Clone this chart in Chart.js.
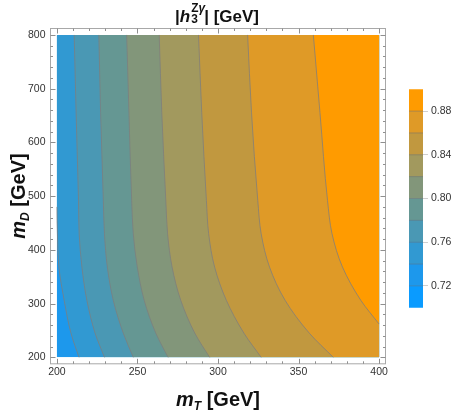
<!DOCTYPE html>
<html>
<head>
<meta charset="utf-8">
<script src="https://cdn.jsdelivr.net/npm/chart.js@4"></script>
<style>
html,body{margin:0;padding:0;background:#fff;}
#wrap{position:relative;width:458px;height:411px;overflow:hidden;font-family:"Liberation Sans",Arial,sans-serif;}
#main{position:absolute;left:0;top:0;}
#cbar{position:absolute;left:400px;top:80px;}
.lbl{position:absolute;font-weight:bold;color:#111;white-space:nowrap;text-align:center;}
#title{left:0;width:434px;top:7.3px;font-size:17px;line-height:20px;}
#xt{left:0;width:436px;top:386.8px;font-size:20px;line-height:24px;}
#yt{left:-81.9px;width:200px;top:184px;height:24px;font-size:20px;line-height:24px;transform:rotate(-90deg);}
.ss{display:inline-block;position:relative;width:14px;height:0;}
.sp{position:absolute;left:1px;top:-19.6px;font-size:11.9px;line-height:1;}
.sb{position:absolute;left:1px;top:-8.6px;font-size:11.9px;line-height:1;}
.sub{font-size:12px;position:relative;top:4px;font-style:italic;}
</style>
</head>
<body>
<div id="wrap">
  <canvas id="main" width="458" height="411"></canvas>
  <canvas id="cbar" width="58" height="240"></canvas>
  <div class="lbl" id="title">|<i>h</i><span class="ss"><span class="sp">Z<i>γ</i></span><span class="sb">3</span></span>| [GeV]</div>
  <div class="lbl" id="xt"><i>m</i><span class="sub">T</span> [GeV]</div>
  <div class="lbl" id="yt"><i>m</i><span class="sub">D</span> [GeV]</div>
</div>
<script>
// ---- data ----
const mTTicks = [200, 250, 300, 350, 400];
const mDTicks = [200, 300, 400, 500, 600, 700, 800];
const barTicks = [0.72, 0.76, 0.80, 0.84, 0.88];
const bandEdges = [0.70, 0.72, 0.74, 0.76, 0.78, 0.80, 0.82, 0.84, 0.86, 0.88, 0.90];
const bandColors = ['#0A9BFF', '#1D98EC', '#3199D2', '#4A98B4', '#659793',
                    '#82967A', '#A2995E', '#C1983F', '#DF9A27', '#FF9B00'];
const levels = [0.74, 0.76, 0.78, 0.80, 0.82, 0.84, 0.86, 0.88];

// contour lines (mT at given mD rows)
const rowsMD = [800, 656, 492, 430, 368, 306, 245, 200];
const edge074MT = [200, 200, 200.3, 201.2, 204.5, 208.7, 213.7];
const edge074MD = [800, 480, 430, 368, 306, 245, 200];
const mT076 = [210.7, 211.9, 213.4, 213.8, 215.5, 218.6, 223.7, 229.5];
const mT078 = [226.0, 227.1, 228.8, 229.5, 231.3, 235.0, 241.2, 247.4];
const mT080 = [243.3, 244.7, 246.4, 247.4, 249.9, 254.2, 261.4, 269.0];
const mT082 = [263.5, 265.1, 267.6, 268.7, 271.5, 276.9, 285.6, 294.8];
const mT084 = [287.9, 289.9, 292.8, 294.2, 297.9, 305.2, 316.1, 326.8];
const mT086 = [318.4, 320.8, 324.7, 326.8, 332.0, 341.7, 356.7, 371.6];
const rows088MD = [800, 656, 492, 430, 368, 306, 262];
const mT088 = [359.2, 363.3, 368.0, 370.8, 377.3, 388.7, 400];

// ---- build ----
const pts = (xs, ys) => xs.map((v, i) => ({x: v, y: ys[i]}));
const contourData = [
  pts(edge074MT, edge074MD),
  pts(mT076, rowsMD), pts(mT078, rowsMD), pts(mT080, rowsMD),
  pts(mT082, rowsMD), pts(mT084, rowsMD), pts(mT086, rowsMD),
  pts(mT088, rows088MD)
];
const colorFor = lv => bandColors[Math.round((lv - bandEdges[0]) / 0.02)];
const lineColor = 'rgba(125,125,125,0.75)';
const xMin = mTTicks[0], xMax = mTTicks[mTTicks.length - 1];
const yMin = mDTicks[0], yMax = mDTicks[mDTicks.length - 1];

const datasets = [{
  data: [{x: xMin, y: yMax}, {x: xMin, y: yMin}],
  backgroundColor: colorFor(0.72), borderWidth: 0, fill: {value: xMax}, order: 100
}];
contourData.forEach((d, i) => {
  datasets.push({
    data: d,
    backgroundColor: colorFor(levels[i]),
    borderColor: lineColor,
    borderWidth: 1,
    fill: {value: xMax},
    order: 99 - i,
    segment: {
      borderColor: ctx => (ctx.p0.parsed.x <= xMin && ctx.p1.parsed.x <= xMin) ? 'rgba(0,0,0,0)' : undefined
    }
  });
});

const minorBetween = (arr, n) => {
  const out = [];
  for (let i = 0; i < arr.length - 1; i++)
    for (let k = 1; k < n; k++) out.push(arr[i] + (arr[i + 1] - arr[i]) * k / n);
  return out;
};
const mTMinor = minorBetween(mTTicks, 5);
const mDMinor = minorBetween(mDTicks, 5);

const framePlugin = {
  id: 'frame',
  afterDraw(chart) {
    const {ctx, chartArea: a, scales: {x, y}} = chart;
    ctx.save();
    ctx.lineWidth = 1;
    ctx.strokeStyle = '#a8a8a8';
    ctx.strokeRect(a.left, a.top, a.right - a.left, a.bottom - a.top);
    ctx.strokeStyle = '#8f8f8f';
    const seg = (x1, y1, x2, y2) => { ctx.beginPath(); ctx.moveTo(x1, y1); ctx.lineTo(x2, y2); ctx.stroke(); };
    const doX = (vals, len) => vals.forEach(v => {
      const p = Math.round(x.getPixelForValue(v)) + 0.5;
      seg(p, a.bottom, p, a.bottom - len);
      seg(p, a.top, p, a.top + len);
    });
    const doY = (vals, len) => vals.forEach(v => {
      const p = Math.round(y.getPixelForValue(v)) + 0.5;
      seg(a.left, p, a.left + len, p);
      seg(a.right, p, a.right - len, p);
    });
    doX(mTTicks, 5); doX(mTMinor, 2.5);
    doY(mDTicks, 5); doY(mDMinor, 2.5);
    ctx.restore();
  }
};

const tickFont = {family: '"Liberation Sans", Arial, sans-serif', size: 10.5};

new Chart(document.getElementById('main'), {
  type: 'line',
  data: {datasets},
  options: {
    indexAxis: 'y',
    responsive: false,
    animation: false,
    layout: {padding: {left: 0, top: 28.5, right: 72.5, bottom: 0}},
    plugins: {legend: {display: false}, tooltip: {enabled: false}},
    elements: {point: {radius: 0}, line: {cubicInterpolationMode: 'monotone'}},
    scales: {
      x: {
        type: 'linear', min: 196, max: 404,
        afterBuildTicks: s => { s.ticks = mTTicks.map(v => ({value: v})); },
        afterFit: s => { s.height = 47.2; },
        grid: {display: false, drawTicks: false},
        border: {display: false},
        ticks: {color: '#333', font: tickFont, padding: 2, maxRotation: 0, callback: v => String(v)}
      },
      y: {
        type: 'linear', min: 188, max: 812,
        afterBuildTicks: s => { s.ticks = mDTicks.map(v => ({value: v})); },
        afterFit: s => { s.width = 50.5; },
        grid: {display: false, drawTicks: false},
        border: {display: false},
        ticks: {color: '#333', font: tickFont, padding: 5, callback: v => String(v)}
      }
    }
  },
  plugins: [framePlugin]
});

const sepPlugin = {
  id: 'sep',
  afterDatasetsDraw(chart) {
    const {ctx, chartArea: a, scales: {y}} = chart;
    ctx.save();
    ctx.strokeStyle = 'rgba(110,110,110,0.45)';
    ctx.lineWidth = 1;
    bandEdges.slice(1, -1).forEach(v => {
      const p = y.getPixelForValue(v);
      ctx.beginPath(); ctx.moveTo(a.left, p); ctx.lineTo(a.right, p); ctx.stroke();
    });
    ctx.restore();
  }
};

new Chart(document.getElementById('cbar'), {
  type: 'bar',
  data: {
    labels: [''],
    datasets: bandColors.map((c, i) => ({
      data: [[bandEdges[i], bandEdges[i + 1]]],
      backgroundColor: c, borderWidth: 0,
      barPercentage: 1, categoryPercentage: 1, grouped: false
    }))
  },
  options: {
    responsive: false,
    animation: false,
    layout: {padding: {left: 9, top: 9.3, right: 0, bottom: 12.3}},
    plugins: {legend: {display: false}, tooltip: {enabled: false}},
    scales: {
      x: {display: false},
      y: {
        position: 'right', min: bandEdges[0], max: bandEdges[bandEdges.length - 1],
        afterBuildTicks: s => { s.ticks = barTicks.map(v => ({value: v})); },
        afterFit: s => { s.width = 35; },
        grid: {drawOnChartArea: false, drawTicks: true, tickLength: 5, color: '#cfcfcf'},
        border: {display: false},
        ticks: {color: '#333', font: tickFont, padding: 3, callback: v => v.toFixed(2)}
      }
    }
  },
  plugins: [sepPlugin]
});
</script>
</body>
</html>
